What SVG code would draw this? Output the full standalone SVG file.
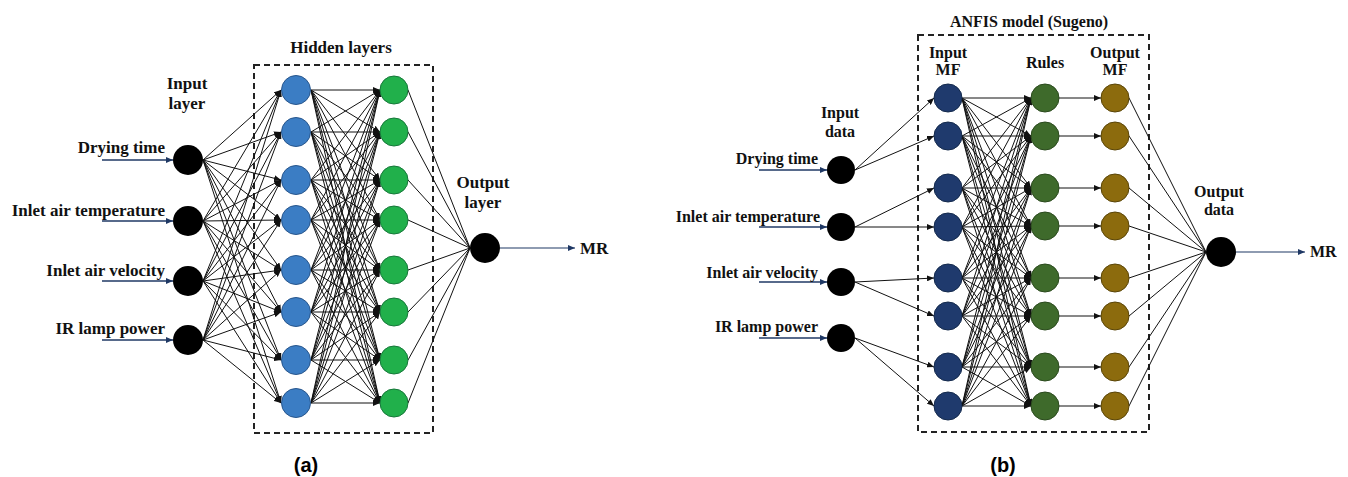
<svg xmlns="http://www.w3.org/2000/svg" width="1348" height="477" viewBox="0 0 1348 477">
<style>
text{font-family:"Liberation Serif","Times New Roman",serif;font-weight:bold;fill:#111}
.lbl{font-size:17px}
.lbr{font-size:16px}
.cap{font-family:"Liberation Sans",Arial,sans-serif;font-size:20px;fill:#000}
.e{stroke:#111;stroke-width:1}
.a{marker-end:url(#ah)}
.in{stroke:#1f3864;stroke-width:1.6;marker-end:url(#an)}
.box{fill:none;stroke:#222;stroke-width:2;stroke-dasharray:6 4}
.blk{fill:#000}
.blu{fill:#3b7dc4;stroke:#28568c;stroke-width:1}
.grn{fill:#21b04b;stroke:#17773a;stroke-width:1}
.nav{fill:#1f3a6d;stroke:#142a4c;stroke-width:1}
.rul{fill:#3e6a2b;stroke:#2b4a1e;stroke-width:1}
.omf{fill:#8c6b0d;stroke:#5a4508;stroke-width:1}
</style>
<defs>
<marker id="ah" markerUnits="userSpaceOnUse" markerWidth="7" markerHeight="6" refX="7" refY="3" orient="auto"><path d="M0,0 L7,3 L0,6 z" fill="#111"/></marker>
<marker id="an" markerUnits="userSpaceOnUse" markerWidth="7" markerHeight="6" refX="7" refY="3" orient="auto"><path d="M0,0 L7,3 L0,6 z" fill="#1f3864"/></marker>
</defs>
<rect width="1348" height="477" fill="#fff"/>

<!-- boxes and titles -->
<rect class="box" x="254" y="65" width="179" height="368"/>
<text class="lbl" x="341" y="53" text-anchor="middle">Hidden layers</text>
<rect class="box" x="918" y="35" width="231" height="397"/>
<text class="lbr" x="1029" y="27" text-anchor="middle">ANFIS model (Sugeno)</text>
<text class="lbl" x="187" y="89" text-anchor="middle">Input</text>
<text class="lbl" x="187" y="109" text-anchor="middle">layer</text>
<text class="lbl" x="483" y="188" text-anchor="middle">Output</text>
<text class="lbl" x="483" y="208" text-anchor="middle">layer</text>
<text class="lbr" x="840" y="118" text-anchor="middle">Input</text>
<text class="lbr" x="840" y="137" text-anchor="middle">data</text>
<text class="lbr" x="948" y="58" text-anchor="middle">Input</text>
<text class="lbr" x="948" y="75" text-anchor="middle">MF</text>
<text class="lbr" x="1045" y="68" text-anchor="middle">Rules</text>
<text class="lbr" x="1115" y="58" text-anchor="middle">Output</text>
<text class="lbr" x="1115" y="75" text-anchor="middle">MF</text>
<text class="lbr" x="1219" y="197" text-anchor="middle">Output</text>
<text class="lbr" x="1219" y="215" text-anchor="middle">data</text>
<text class="cap" x="306" y="472" text-anchor="middle">(a)</text>
<text class="cap" x="1003" y="472" text-anchor="middle">(b)</text>

<g id="connectors">
<!-- left: input arrows -->
<line class="in" x1="102" y1="160" x2="173" y2="160"/>
<line class="in" x1="102" y1="221" x2="173" y2="221"/>
<line class="in" x1="102" y1="281" x2="173" y2="281"/>
<line class="in" x1="102" y1="340" x2="173" y2="340"/>
<!-- left: input -> hidden 1 -->
<line class="e a" x1="203" y1="160" x2="281" y2="90"/><line class="e a" x1="203" y1="160" x2="281" y2="132"/><line class="e a" x1="203" y1="160" x2="281" y2="180"/><line class="e a" x1="203" y1="160" x2="281" y2="220"/><line class="e a" x1="203" y1="160" x2="281" y2="270"/><line class="e a" x1="203" y1="160" x2="281" y2="312"/><line class="e a" x1="203" y1="160" x2="281" y2="360"/><line class="e a" x1="203" y1="160" x2="281" y2="403"/>
<line class="e a" x1="203" y1="221" x2="281" y2="90"/><line class="e a" x1="203" y1="221" x2="281" y2="132"/><line class="e a" x1="203" y1="221" x2="281" y2="180"/><line class="e a" x1="203" y1="221" x2="281" y2="220"/><line class="e a" x1="203" y1="221" x2="281" y2="270"/><line class="e a" x1="203" y1="221" x2="281" y2="312"/><line class="e a" x1="203" y1="221" x2="281" y2="360"/><line class="e a" x1="203" y1="221" x2="281" y2="403"/>
<line class="e a" x1="203" y1="281" x2="281" y2="90"/><line class="e a" x1="203" y1="281" x2="281" y2="132"/><line class="e a" x1="203" y1="281" x2="281" y2="180"/><line class="e a" x1="203" y1="281" x2="281" y2="220"/><line class="e a" x1="203" y1="281" x2="281" y2="270"/><line class="e a" x1="203" y1="281" x2="281" y2="312"/><line class="e a" x1="203" y1="281" x2="281" y2="360"/><line class="e a" x1="203" y1="281" x2="281" y2="403"/>
<line class="e a" x1="203" y1="340" x2="281" y2="90"/><line class="e a" x1="203" y1="340" x2="281" y2="132"/><line class="e a" x1="203" y1="340" x2="281" y2="180"/><line class="e a" x1="203" y1="340" x2="281" y2="220"/><line class="e a" x1="203" y1="340" x2="281" y2="270"/><line class="e a" x1="203" y1="340" x2="281" y2="312"/><line class="e a" x1="203" y1="340" x2="281" y2="360"/><line class="e a" x1="203" y1="340" x2="281" y2="403"/>
<!-- left: hidden 1 -> hidden 2 -->
<line class="e a" x1="311" y1="90" x2="380" y2="90"/><line class="e a" x1="311" y1="90" x2="380" y2="132"/><line class="e a" x1="311" y1="90" x2="380" y2="180"/><line class="e a" x1="311" y1="90" x2="380" y2="220"/><line class="e a" x1="311" y1="90" x2="380" y2="270"/><line class="e a" x1="311" y1="90" x2="380" y2="312"/><line class="e a" x1="311" y1="90" x2="380" y2="360"/><line class="e a" x1="311" y1="90" x2="380" y2="403"/>
<line class="e a" x1="311" y1="132" x2="380" y2="90"/><line class="e a" x1="311" y1="132" x2="380" y2="132"/><line class="e a" x1="311" y1="132" x2="380" y2="180"/><line class="e a" x1="311" y1="132" x2="380" y2="220"/><line class="e a" x1="311" y1="132" x2="380" y2="270"/><line class="e a" x1="311" y1="132" x2="380" y2="312"/><line class="e a" x1="311" y1="132" x2="380" y2="360"/><line class="e a" x1="311" y1="132" x2="380" y2="403"/>
<line class="e a" x1="311" y1="180" x2="380" y2="90"/><line class="e a" x1="311" y1="180" x2="380" y2="132"/><line class="e a" x1="311" y1="180" x2="380" y2="180"/><line class="e a" x1="311" y1="180" x2="380" y2="220"/><line class="e a" x1="311" y1="180" x2="380" y2="270"/><line class="e a" x1="311" y1="180" x2="380" y2="312"/><line class="e a" x1="311" y1="180" x2="380" y2="360"/><line class="e a" x1="311" y1="180" x2="380" y2="403"/>
<line class="e a" x1="311" y1="220" x2="380" y2="90"/><line class="e a" x1="311" y1="220" x2="380" y2="132"/><line class="e a" x1="311" y1="220" x2="380" y2="180"/><line class="e a" x1="311" y1="220" x2="380" y2="220"/><line class="e a" x1="311" y1="220" x2="380" y2="270"/><line class="e a" x1="311" y1="220" x2="380" y2="312"/><line class="e a" x1="311" y1="220" x2="380" y2="360"/><line class="e a" x1="311" y1="220" x2="380" y2="403"/>
<line class="e a" x1="311" y1="270" x2="380" y2="90"/><line class="e a" x1="311" y1="270" x2="380" y2="132"/><line class="e a" x1="311" y1="270" x2="380" y2="180"/><line class="e a" x1="311" y1="270" x2="380" y2="220"/><line class="e a" x1="311" y1="270" x2="380" y2="270"/><line class="e a" x1="311" y1="270" x2="380" y2="312"/><line class="e a" x1="311" y1="270" x2="380" y2="360"/><line class="e a" x1="311" y1="270" x2="380" y2="403"/>
<line class="e a" x1="311" y1="312" x2="380" y2="90"/><line class="e a" x1="311" y1="312" x2="380" y2="132"/><line class="e a" x1="311" y1="312" x2="380" y2="180"/><line class="e a" x1="311" y1="312" x2="380" y2="220"/><line class="e a" x1="311" y1="312" x2="380" y2="270"/><line class="e a" x1="311" y1="312" x2="380" y2="312"/><line class="e a" x1="311" y1="312" x2="380" y2="360"/><line class="e a" x1="311" y1="312" x2="380" y2="403"/>
<line class="e a" x1="311" y1="360" x2="380" y2="90"/><line class="e a" x1="311" y1="360" x2="380" y2="132"/><line class="e a" x1="311" y1="360" x2="380" y2="180"/><line class="e a" x1="311" y1="360" x2="380" y2="220"/><line class="e a" x1="311" y1="360" x2="380" y2="270"/><line class="e a" x1="311" y1="360" x2="380" y2="312"/><line class="e a" x1="311" y1="360" x2="380" y2="360"/><line class="e a" x1="311" y1="360" x2="380" y2="403"/>
<line class="e a" x1="311" y1="403" x2="380" y2="90"/><line class="e a" x1="311" y1="403" x2="380" y2="132"/><line class="e a" x1="311" y1="403" x2="380" y2="180"/><line class="e a" x1="311" y1="403" x2="380" y2="220"/><line class="e a" x1="311" y1="403" x2="380" y2="270"/><line class="e a" x1="311" y1="403" x2="380" y2="312"/><line class="e a" x1="311" y1="403" x2="380" y2="360"/><line class="e a" x1="311" y1="403" x2="380" y2="403"/>
<!-- left: hidden 2 -> output -->
<line class="e" x1="408" y1="90" x2="470" y2="248"/><line class="e" x1="408" y1="132" x2="470" y2="248"/><line class="e" x1="408" y1="180" x2="470" y2="248"/><line class="e" x1="408" y1="220" x2="470" y2="248"/><line class="e" x1="408" y1="270" x2="470" y2="248"/><line class="e" x1="408" y1="312" x2="470" y2="248"/><line class="e" x1="408" y1="360" x2="470" y2="248"/><line class="e" x1="408" y1="403" x2="470" y2="248"/>
<line class="in" x1="500" y1="248" x2="575" y2="248" style="stroke-width:1.2"/>

<!-- right: input arrows -->
<line class="in" x1="759" y1="170" x2="827" y2="170"/>
<line class="in" x1="759" y1="227" x2="827" y2="227"/>
<line class="in" x1="759" y1="282" x2="827" y2="282"/>
<line class="in" x1="759" y1="338" x2="827" y2="338"/>
<!-- right: input -> input MF -->
<line class="e a" x1="855" y1="170" x2="934" y2="98"/><line class="e a" x1="855" y1="170" x2="934" y2="136"/>
<line class="e a" x1="855" y1="227" x2="934" y2="188"/><line class="e a" x1="855" y1="227" x2="934" y2="227"/>
<line class="e a" x1="855" y1="282" x2="934" y2="278"/><line class="e a" x1="855" y1="282" x2="934" y2="316"/>
<line class="e a" x1="855" y1="338" x2="934" y2="367"/><line class="e a" x1="855" y1="338" x2="934" y2="406"/>
<!-- right: input MF -> rules -->
<line class="e a" x1="962" y1="98" x2="1031" y2="98"/><line class="e a" x1="962" y1="98" x2="1031" y2="136"/><line class="e a" x1="962" y1="98" x2="1031" y2="188"/><line class="e a" x1="962" y1="98" x2="1031" y2="226"/><line class="e a" x1="962" y1="98" x2="1031" y2="278"/><line class="e a" x1="962" y1="98" x2="1031" y2="316"/><line class="e a" x1="962" y1="98" x2="1031" y2="367"/><line class="e a" x1="962" y1="98" x2="1031" y2="406"/>
<line class="e a" x1="962" y1="136" x2="1031" y2="98"/><line class="e a" x1="962" y1="136" x2="1031" y2="136"/><line class="e a" x1="962" y1="136" x2="1031" y2="188"/><line class="e a" x1="962" y1="136" x2="1031" y2="226"/><line class="e a" x1="962" y1="136" x2="1031" y2="278"/><line class="e a" x1="962" y1="136" x2="1031" y2="316"/><line class="e a" x1="962" y1="136" x2="1031" y2="367"/><line class="e a" x1="962" y1="136" x2="1031" y2="406"/>
<line class="e a" x1="962" y1="188" x2="1031" y2="98"/><line class="e a" x1="962" y1="188" x2="1031" y2="136"/><line class="e a" x1="962" y1="188" x2="1031" y2="188"/><line class="e a" x1="962" y1="188" x2="1031" y2="226"/><line class="e a" x1="962" y1="188" x2="1031" y2="278"/><line class="e a" x1="962" y1="188" x2="1031" y2="316"/><line class="e a" x1="962" y1="188" x2="1031" y2="367"/><line class="e a" x1="962" y1="188" x2="1031" y2="406"/>
<line class="e a" x1="962" y1="227" x2="1031" y2="98"/><line class="e a" x1="962" y1="227" x2="1031" y2="136"/><line class="e a" x1="962" y1="227" x2="1031" y2="188"/><line class="e a" x1="962" y1="227" x2="1031" y2="226"/><line class="e a" x1="962" y1="227" x2="1031" y2="278"/><line class="e a" x1="962" y1="227" x2="1031" y2="316"/><line class="e a" x1="962" y1="227" x2="1031" y2="367"/><line class="e a" x1="962" y1="227" x2="1031" y2="406"/>
<line class="e a" x1="962" y1="278" x2="1031" y2="98"/><line class="e a" x1="962" y1="278" x2="1031" y2="136"/><line class="e a" x1="962" y1="278" x2="1031" y2="188"/><line class="e a" x1="962" y1="278" x2="1031" y2="226"/><line class="e a" x1="962" y1="278" x2="1031" y2="278"/><line class="e a" x1="962" y1="278" x2="1031" y2="316"/><line class="e a" x1="962" y1="278" x2="1031" y2="367"/><line class="e a" x1="962" y1="278" x2="1031" y2="406"/>
<line class="e a" x1="962" y1="316" x2="1031" y2="98"/><line class="e a" x1="962" y1="316" x2="1031" y2="136"/><line class="e a" x1="962" y1="316" x2="1031" y2="188"/><line class="e a" x1="962" y1="316" x2="1031" y2="226"/><line class="e a" x1="962" y1="316" x2="1031" y2="278"/><line class="e a" x1="962" y1="316" x2="1031" y2="316"/><line class="e a" x1="962" y1="316" x2="1031" y2="367"/><line class="e a" x1="962" y1="316" x2="1031" y2="406"/>
<line class="e a" x1="962" y1="367" x2="1031" y2="98"/><line class="e a" x1="962" y1="367" x2="1031" y2="136"/><line class="e a" x1="962" y1="367" x2="1031" y2="188"/><line class="e a" x1="962" y1="367" x2="1031" y2="226"/><line class="e a" x1="962" y1="367" x2="1031" y2="278"/><line class="e a" x1="962" y1="367" x2="1031" y2="316"/><line class="e a" x1="962" y1="367" x2="1031" y2="367"/><line class="e a" x1="962" y1="367" x2="1031" y2="406"/>
<line class="e a" x1="962" y1="406" x2="1031" y2="98"/><line class="e a" x1="962" y1="406" x2="1031" y2="136"/><line class="e a" x1="962" y1="406" x2="1031" y2="188"/><line class="e a" x1="962" y1="406" x2="1031" y2="226"/><line class="e a" x1="962" y1="406" x2="1031" y2="278"/><line class="e a" x1="962" y1="406" x2="1031" y2="316"/><line class="e a" x1="962" y1="406" x2="1031" y2="367"/><line class="e a" x1="962" y1="406" x2="1031" y2="406"/>
<!-- right: rules -> output MF -->
<line class="e a" x1="1059" y1="98" x2="1101" y2="98"/><line class="e a" x1="1059" y1="136" x2="1101" y2="136"/><line class="e a" x1="1059" y1="188" x2="1101" y2="188"/><line class="e a" x1="1059" y1="226" x2="1101" y2="226"/><line class="e a" x1="1059" y1="278" x2="1101" y2="278"/><line class="e a" x1="1059" y1="316" x2="1101" y2="316"/><line class="e a" x1="1059" y1="367" x2="1101" y2="367"/><line class="e a" x1="1059" y1="406" x2="1101" y2="406"/>
<!-- right: output MF -> output -->
<line class="e" x1="1129" y1="98" x2="1206" y2="252"/><line class="e" x1="1129" y1="136" x2="1206" y2="252"/><line class="e" x1="1129" y1="188" x2="1206" y2="252"/><line class="e" x1="1129" y1="226" x2="1206" y2="252"/><line class="e" x1="1129" y1="278" x2="1206" y2="252"/><line class="e" x1="1129" y1="316" x2="1206" y2="252"/><line class="e" x1="1129" y1="367" x2="1206" y2="252"/><line class="e" x1="1129" y1="406" x2="1206" y2="252"/>
<line class="in" x1="1236" y1="252" x2="1305" y2="252" style="stroke-width:1.2"/>
</g>

<!-- left nodes -->
<g id="a-in-drying"><circle class="blk" cx="188" cy="160" r="15"/><text class="lbl" x="165" y="153" text-anchor="end">Drying time</text></g>
<g id="a-in-temp"><circle class="blk" cx="188" cy="221" r="15"/><text class="lbl" x="165" y="216" text-anchor="end">Inlet air temperature</text></g>
<g id="a-in-vel"><circle class="blk" cx="188" cy="281" r="15"/><text class="lbl" x="165" y="276" text-anchor="end">Inlet air velocity</text></g>
<g id="a-in-ir"><circle class="blk" cx="188" cy="340" r="15"/><text class="lbl" x="165" y="334" text-anchor="end">IR lamp power</text></g>
<g id="a-h1-1"><circle class="blu" cx="296" cy="90" r="14.5"/></g>
<g id="a-h1-2"><circle class="blu" cx="296" cy="132" r="14.5"/></g>
<g id="a-h1-3"><circle class="blu" cx="296" cy="180" r="14.5"/></g>
<g id="a-h1-4"><circle class="blu" cx="296" cy="220" r="14.5"/></g>
<g id="a-h1-5"><circle class="blu" cx="296" cy="270" r="14.5"/></g>
<g id="a-h1-6"><circle class="blu" cx="296" cy="312" r="14.5"/></g>
<g id="a-h1-7"><circle class="blu" cx="296" cy="360" r="14.5"/></g>
<g id="a-h1-8"><circle class="blu" cx="296" cy="403" r="14.5"/></g>
<g id="a-h2-1"><circle class="grn" cx="394" cy="90" r="14"/></g>
<g id="a-h2-2"><circle class="grn" cx="394" cy="132" r="14"/></g>
<g id="a-h2-3"><circle class="grn" cx="394" cy="180" r="14"/></g>
<g id="a-h2-4"><circle class="grn" cx="394" cy="220" r="14"/></g>
<g id="a-h2-5"><circle class="grn" cx="394" cy="270" r="14"/></g>
<g id="a-h2-6"><circle class="grn" cx="394" cy="312" r="14"/></g>
<g id="a-h2-7"><circle class="grn" cx="394" cy="360" r="14"/></g>
<g id="a-h2-8"><circle class="grn" cx="394" cy="403" r="14"/></g>
<g id="a-out"><circle class="blk" cx="485" cy="248" r="15"/><text class="lbl" x="580" y="254">MR</text></g>

<!-- right nodes -->
<g id="b-in-drying"><circle class="blk" cx="841" cy="170" r="14"/><text class="lbr" x="818" y="164" text-anchor="end">Drying time</text></g>
<g id="b-in-temp"><circle class="blk" cx="841" cy="227" r="14"/><text class="lbr" x="820" y="222" text-anchor="end">Inlet air temperature</text></g>
<g id="b-in-vel"><circle class="blk" cx="841" cy="282" r="14"/><text class="lbr" x="818" y="278" text-anchor="end">Inlet air velocity</text></g>
<g id="b-in-ir"><circle class="blk" cx="841" cy="338" r="14"/><text class="lbr" x="818" y="332" text-anchor="end">IR lamp power</text></g>
<g id="b-mf-1"><circle class="nav" cx="948" cy="98" r="14"/></g>
<g id="b-mf-2"><circle class="nav" cx="948" cy="136" r="14"/></g>
<g id="b-mf-3"><circle class="nav" cx="948" cy="188" r="14"/></g>
<g id="b-mf-4"><circle class="nav" cx="948" cy="227" r="14"/></g>
<g id="b-mf-5"><circle class="nav" cx="948" cy="278" r="14"/></g>
<g id="b-mf-6"><circle class="nav" cx="948" cy="316" r="14"/></g>
<g id="b-mf-7"><circle class="nav" cx="948" cy="367" r="14"/></g>
<g id="b-mf-8"><circle class="nav" cx="948" cy="406" r="14"/></g>
<g id="b-rule-1"><circle class="rul" cx="1045" cy="98" r="14"/></g>
<g id="b-rule-2"><circle class="rul" cx="1045" cy="136" r="14"/></g>
<g id="b-rule-3"><circle class="rul" cx="1045" cy="188" r="14"/></g>
<g id="b-rule-4"><circle class="rul" cx="1045" cy="226" r="14"/></g>
<g id="b-rule-5"><circle class="rul" cx="1045" cy="278" r="14"/></g>
<g id="b-rule-6"><circle class="rul" cx="1045" cy="316" r="14"/></g>
<g id="b-rule-7"><circle class="rul" cx="1045" cy="367" r="14"/></g>
<g id="b-rule-8"><circle class="rul" cx="1045" cy="406" r="14"/></g>
<g id="b-omf-1"><circle class="omf" cx="1115" cy="98" r="14"/></g>
<g id="b-omf-2"><circle class="omf" cx="1115" cy="136" r="14"/></g>
<g id="b-omf-3"><circle class="omf" cx="1115" cy="188" r="14"/></g>
<g id="b-omf-4"><circle class="omf" cx="1115" cy="226" r="14"/></g>
<g id="b-omf-5"><circle class="omf" cx="1115" cy="278" r="14"/></g>
<g id="b-omf-6"><circle class="omf" cx="1115" cy="316" r="14"/></g>
<g id="b-omf-7"><circle class="omf" cx="1115" cy="367" r="14"/></g>
<g id="b-omf-8"><circle class="omf" cx="1115" cy="406" r="14"/></g>
<g id="b-out"><circle class="blk" cx="1221" cy="252" r="15"/><text class="lbr" x="1310" y="257">MR</text></g>
</svg>
